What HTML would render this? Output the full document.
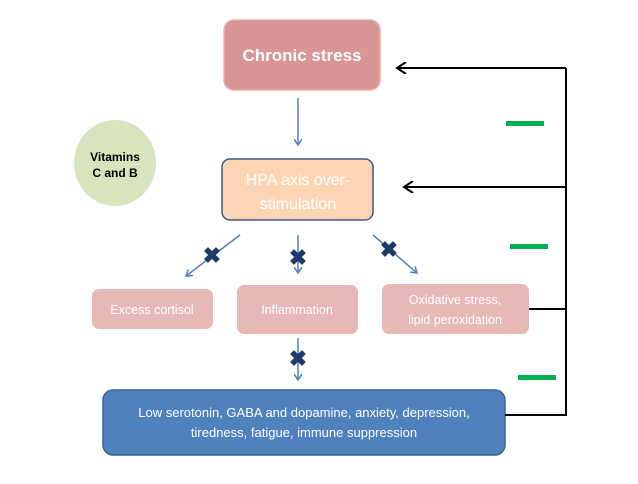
<!DOCTYPE html>
<html><head><style>
body{margin:0;width:638px;height:479px;background:#fff;font-family:"Liberation Sans",sans-serif;overflow:hidden}
</style></head><body>
<svg width="638" height="479" xmlns="http://www.w3.org/2000/svg" font-family="Liberation Sans, sans-serif">
<defs>
<marker id="b" markerWidth="8" markerHeight="8" refX="6" refY="4" orient="auto" markerUnits="userSpaceOnUse"><path d="M0,0 L6,4 L0,8" fill="none" stroke="#4f81bd" stroke-width="1.5"/></marker>
<marker id="k" markerWidth="12" markerHeight="12" refX="10" refY="6" orient="auto" markerUnits="userSpaceOnUse"><path d="M1,0 L10,6 L1,12" fill="none" stroke="#000" stroke-width="2"/></marker>
</defs>
<rect x="224" y="20" width="156" height="70" rx="10" fill="#d99594" stroke="#e6b0b0" stroke-width="1.5"/>
<text x="302" y="61" text-anchor="middle" fill="#fff" font-size="17" font-weight="bold">Chronic stress</text>
<ellipse cx="115" cy="163" rx="41" ry="43" fill="#d7e4bd"/>
<text x="115" y="161" text-anchor="middle" font-size="12" font-weight="bold">Vitamins</text>
<text x="115" y="177" text-anchor="middle" font-size="12" font-weight="bold">C and B</text>
<line x1="298" y1="98" x2="298" y2="145" stroke="#4f81bd" stroke-width="1.5" marker-end="url(#b)"/>
<rect x="222" y="159" width="151" height="61" rx="8" fill="#fcd5b5" stroke="#3e5a82" stroke-width="1.5"/>
<text x="298" y="185" text-anchor="middle" fill="#fff" font-size="16">HPA axis over-</text>
<text x="298" y="209" text-anchor="middle" fill="#fff" font-size="16">stimulation</text>
<g stroke="#4f81bd" stroke-width="1.5" marker-end="url(#b)">
<line x1="240" y1="235" x2="186" y2="276"/>
<line x1="298" y1="235" x2="298" y2="273"/>
<line x1="373" y1="235" x2="417" y2="273"/>
<line x1="298" y1="338" x2="298" y2="380"/>
</g>
<g fill="#1f3a6b" font-size="22" font-weight="bold" text-anchor="middle">
<text x="212" y="263">✖</text><text x="298" y="265">✖</text><text x="389" y="257">✖</text><text x="298" y="366">✖</text>
</g>
<rect x="92" y="289" width="121" height="40" rx="7" fill="#e6b9b8"/>
<text x="152" y="314" text-anchor="middle" fill="#fff" font-size="12.5">Excess cortisol</text>
<rect x="237" y="285" width="121" height="49" rx="7" fill="#e6b9b8"/>
<text x="297" y="314" text-anchor="middle" fill="#fff" font-size="12.5">Inflammation</text>
<rect x="382" y="284" width="147" height="50" rx="7" fill="#e6b9b8"/>
<text x="455" y="304" text-anchor="middle" fill="#fff" font-size="12.5">Oxidative stress,</text>
<text x="455" y="324" text-anchor="middle" fill="#fff" font-size="12.5">lipid peroxidation</text>
<rect x="103" y="390" width="402" height="65" rx="10" fill="#4f81bd" stroke="#3a6496" stroke-width="1.5"/>
<text x="304" y="417" text-anchor="middle" fill="#fff" font-size="13">Low serotonin, GABA and dopamine, anxiety, depression,</text>
<text x="304" y="437" text-anchor="middle" fill="#fff" font-size="13">tiredness, fatigue, immune suppression</text>
<g stroke="#000" stroke-width="2" fill="none">
<line x1="566" y1="68" x2="566" y2="416"/>
<line x1="566" y1="68" x2="397" y2="68" marker-end="url(#k)"/>
<line x1="566" y1="187" x2="404" y2="187" marker-end="url(#k)"/>
<line x1="529" y1="309" x2="566" y2="309"/>
<line x1="505" y1="415" x2="566" y2="415"/>
</g>
<g fill="#00b050">
<rect x="506" y="121" width="38" height="5"/>
<rect x="510" y="244" width="38" height="5"/>
<rect x="518" y="375" width="38" height="5"/>
</g>
</svg>
</body></html>
